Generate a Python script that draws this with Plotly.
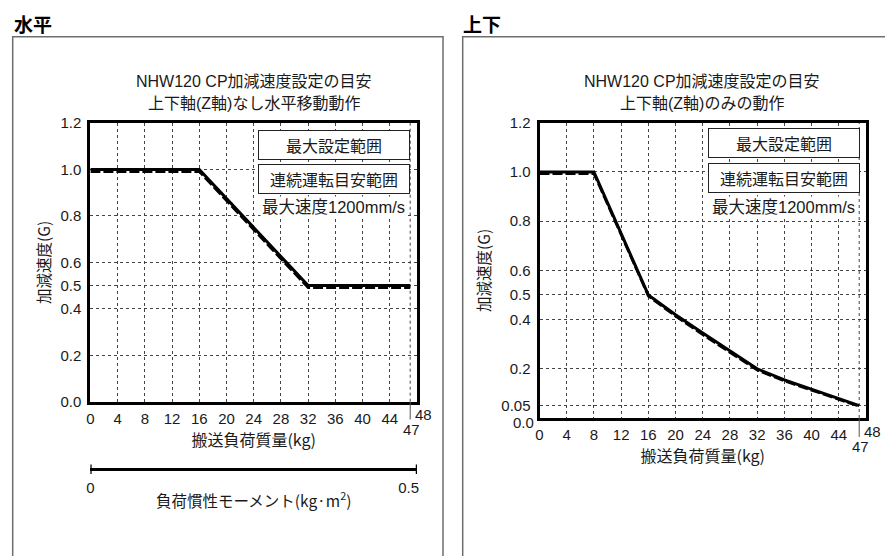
import plotly.graph_objects as go

# ---------------- data ----------------
panel_headers = ["水平", "上下"]
chart_titles_1 = ["NHW120 CP加減速度設定の目安", "NHW120 CP加減速度設定の目安"]
chart_titles_2 = ["上下軸(Z軸)なし水平移動動作", "上下軸(Z軸)のみの動作"]
legend_names = ["最大設定範囲", "連続運転目安範囲"]
speed_note = "最大速度1200mm/s"

# horizontal motion
h_mass = [0, 16, 32, 47]
h_max = [1.0, 1.0, 0.5, 0.5]
h_cont = [0.99, 0.99, 0.49, 0.49]

# vertical motion
v_mass = [0, 8, 16, 20, 24, 28, 32, 36, 40, 44, 47]
v_max = [1.0, 1.0, 0.5, 0.42, 0.345, 0.272, 0.2, 0.155, 0.117, 0.08, 0.05]
v_cont = [0.992, 0.992, 0.495, 0.413, 0.338, 0.266, 0.194, 0.150, 0.113, 0.077, 0.047]

x_tickvals = [0, 4, 8, 12, 16, 20, 24, 28, 32, 36, 40, 44]
x_ticktext = ["0", "4", "8", "12", "16", "20", "24", "28", "32", "36", "40", "44"]
h_y_tickvals = [0.0, 0.2, 0.4, 0.5, 0.6, 0.8, 1.0, 1.2]
h_y_ticktext = ["0.0", "0.2", "0.4", "0.5", "0.6", "0.8", "1.0", "1.2"]
v_y_tickvals = [0.05, 0.2, 0.4, 0.5, 0.6, 0.8, 1.0, 1.2]
v_y_ticktext = ["0.05", "0.2", "0.4", "0.5", "0.6", "0.8", "1.0", "1.2"]
v_y_zero = "0.0"
mass_max = 47
mass_axis_end = 48
inertia_ticks = [0, 0.5]
inertia_text = ["0", "0.5&nbsp;&nbsp;&nbsp;&nbsp;"]

x_title = "搬送負荷質量(kg)"
y_title = "加減速度(G)"
inertia_title = "負荷慣性モーメント(kg·m<sup>2</sup>)"

# ---------------- layout helpers ----------------
W, H = 885, 556
def fx(px):
    return px / W
def fy(py):
    return 1 - py / H

FONT = "Liberation Sans, Noto Sans CJK JP, sans-serif"
CJK = "Noto Sans CJK JP, sans-serif"
INK = "#1a1a1a"
GRID = "#444"

fig = go.Figure()

# traces (dashed first, solid on top)
fig.add_trace(go.Scatter(x=h_mass, y=h_cont, mode="lines", name=legend_names[1],
                         line=dict(color="black", width=2.4, dash="10px,3px"),
                         xaxis="x", yaxis="y", showlegend=False))
fig.add_trace(go.Scatter(x=h_mass, y=h_max, mode="lines", name=legend_names[0],
                         line=dict(color="black", width=3),
                         xaxis="x", yaxis="y", showlegend=False))
fig.add_trace(go.Scatter(x=v_mass, y=v_cont, mode="lines", name=legend_names[1],
                         line=dict(color="black", width=2.4, dash="10px,3px"),
                         xaxis="x2", yaxis="y2", showlegend=False))
fig.add_trace(go.Scatter(x=v_mass, y=v_max, mode="lines", name=legend_names[0],
                         line=dict(color="black", width=3),
                         xaxis="x2", yaxis="y2", showlegend=False))
# carrier for inertia scale axis
fig.add_trace(go.Scatter(x=inertia_ticks, y=[0, 0], mode="markers", opacity=0,
                         xaxis="x3", yaxis="y", showlegend=False, hoverinfo="skip"))

def xaxis(domain, anchor):
    return dict(domain=domain, anchor=anchor, range=[0, mass_axis_end], tickmode="array",
                tickvals=x_tickvals, ticktext=x_ticktext, showline=True, linecolor="black",
                linewidth=3, mirror=True, showgrid=True, gridcolor=GRID, griddash="dot",
                gridwidth=1, zeroline=False, ticks="", ticklabelstandoff=1, automargin=False,
                tickfont=dict(size=15, family=FONT, color=INK),
                title=dict(text=x_title, font=dict(size=16, family=CJK, color=INK), standoff=3))

def yaxis(domain, anchor, tv, tt):
    return dict(domain=domain, anchor=anchor, range=[0, 1.2], tickmode="array",
                tickvals=tv, ticktext=tt, showline=True, linecolor="black",
                linewidth=3, mirror=True, showgrid=True, gridcolor=GRID, griddash="dot",
                gridwidth=1, zeroline=False, ticks="", ticklabelstandoff=3, automargin=False,
                tickfont=dict(size=15, family=FONT, color=INK),
                title=dict(text=y_title, font=dict(size=15.5, family=CJK, color=INK), standoff=7))

L_x = [fx(90.4), fx(417)]
L_y = [fy(401.7), fy(123)]
R_x = [fx(539.5), fx(866)]
R_y = [fy(418), fy(122.7)]

fig.update_layout(
    width=W, height=H, margin=dict(l=0, r=0, t=0, b=0, pad=0, autoexpand=False),
    paper_bgcolor="white", plot_bgcolor="white",
    font=dict(family=FONT, color=INK),
    xaxis=xaxis(L_x, "y"),
    yaxis=yaxis(L_y, "x", h_y_tickvals, h_y_ticktext),
    xaxis2=xaxis(R_x, "y2"),
    yaxis2=yaxis(R_y, "x2", v_y_tickvals, v_y_ticktext),
    xaxis3=dict(overlaying="x", anchor="free", position=fy(469.3), range=[0, 0.5],
                tickmode="array", tickvals=inertia_ticks, ticktext=inertia_text,
                showline=True, linecolor="black", linewidth=3, showgrid=False,
                zeroline=False, ticks="", side="bottom", ticklabelstandoff=4, automargin=False,
                tickfont=dict(size=15, family=FONT, color=INK),
                title=dict(text=inertia_title, font=dict(size=15.5, family=CJK, color=INK), standoff=0)),
)

shapes = []
# outer panel frames
shapes.append(dict(type="path", xref="paper", yref="paper",
                   path=f"M {fx(12.7)},{fy(570)} L {fx(12.7)},{fy(36.7)} L {fx(443)},{fy(36.7)} L {fx(443)},{fy(570)}",
                   line=dict(color="#6e6e6e", width=1.5)))
shapes.append(dict(type="path", xref="paper", yref="paper",
                   path=f"M {fx(462.7)},{fy(570)} L {fx(462.7)},{fy(36.7)} L {fx(900)},{fy(36.7)}",
                   line=dict(color="#6e6e6e", width=1.5)))
# 47 kg grid line and marker tick below axes
for xr, yr, y0, y1 in [("x", "y", 401.7, 419.5), ("x2", "y2", 418, 437)]:
    shapes.append(dict(type="line", xref=xr, yref=yr, x0=mass_max, x1=mass_max,
                       y0=0, y1=1.2, layer="below", line=dict(color=GRID, width=1, dash="dot")))
    shapes.append(dict(type="line", xref=xr, yref="paper", x0=mass_max, x1=mass_max,
                       y0=fy(y0), y1=fy(y1), line=dict(color="#555", width=1)))
# inertia scale end caps
for v in inertia_ticks:
    shapes.append(dict(type="line", xref="x3", yref="paper", x0=v, x1=v,
                       y0=fy(464.5), y1=fy(474), line=dict(color="black", width=2.5)))

ann = []
# panel headers
ann.append(dict(text=f"<b>{panel_headers[0]}</b>", x=fx(11.5), y=fy(24), xref="paper", yref="paper",
                xanchor="left", yanchor="middle", showarrow=False,
                font=dict(size=19, family=CJK, color="black")))
ann.append(dict(text=f"<b>{panel_headers[1]}</b>", x=fx(461.5), y=fy(24), xref="paper", yref="paper",
                xanchor="left", yanchor="middle", showarrow=False,
                font=dict(size=19, family=CJK, color="black")))
# chart titles (two lines each)
for i, cx in enumerate([254, 701.5]):
    ann.append(dict(text=chart_titles_1[i], x=fx(cx), y=fy(81.5), xref="paper", yref="paper",
                    xanchor="center", yanchor="middle", showarrow=False,
                    font=dict(size=16, family=FONT, color=INK)))
    ann.append(dict(text=chart_titles_2[i], x=fx(cx), y=fy(103.5), xref="paper", yref="paper",
                    xanchor="center", yanchor="middle", showarrow=False,
                    font=dict(size=16, family=FONT, color=INK)))
# legend boxes and speed note
for cx, yc1, yc2, yn in [(333.5, 144.5, 179, 207), (783.8, 143.3, 177.5, 206.7)]:
    for name, yc in [(legend_names[0], yc1), (legend_names[1], yc2)]:
        ann.append(dict(text=name, x=fx(cx), y=fy(yc), xref="paper", yref="paper",
                        xanchor="center", yanchor="middle", showarrow=False,
                        width=150, height=28, borderpad=0, bordercolor="#222", borderwidth=1,
                        bgcolor="white", font=dict(size=16, family=CJK, color=INK)))
    ann.append(dict(text=speed_note, x=fx(cx), y=fy(yn), xref="paper", yref="paper",
                    xanchor="center", yanchor="middle", showarrow=False,
                    bgcolor="white", font=dict(size=16.5, family=FONT, color=INK)))
# 48 / 47 end labels
for xr, yl48, yl47 in [("x", 414, 429), ("x2", 431, 446.5)]:
    ann.append(dict(text=str(mass_axis_end), x=mass_axis_end, xref=xr, y=fy(yl48), yref="paper", xshift=6,
                    xanchor="center", yanchor="middle", showarrow=False,
                    font=dict(size=15, family=FONT, color=INK)))
    ann.append(dict(text=str(mass_max), x=mass_max, xref=xr, y=fy(yl47), yref="paper", xshift=1,
                    xanchor="center", yanchor="middle", showarrow=False,
                    font=dict(size=15, family=FONT, color=INK)))
# right chart 0.0 label (set slightly below the axis, as in the reference)
ann.append(dict(text=v_y_zero, x=0, xref="x2", y=fy(422), yref="paper", xshift=-4,
                xanchor="right", yanchor="middle", showarrow=False,
                font=dict(size=15, family=FONT, color=INK)))

fig.update_layout(shapes=shapes, annotations=ann)
# the page's default 8px body margin would shift the 885x556 figure; remove it
fig.write_html("out.html", config={"displayModeBar": False},
               post_script="document.body.style.margin='0px';")
